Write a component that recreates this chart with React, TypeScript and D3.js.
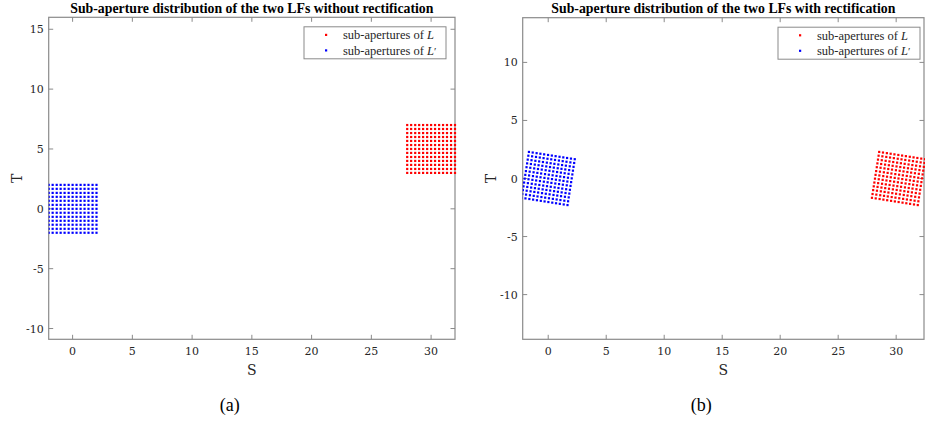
import React from 'react';
import * as d3 from 'd3';

// sub-aperture view offsets (13 x 13 grid), in S/T units
const viewOffsets = [-2, -1.67, -1.33, -1, -0.67, -0.33, 0, 0.33, 0.67, 1, 1.33, 1.67, 2];

// grid centres [s, t] for L (red) and L' (blue)
const centerL_raw = [30, 5];
const centerLp_raw = [0, 0];
const centerL_rect = [30.2, 0];
const centerLp_rect = [0, 0];
const rectAngleDeg = -9;

const xTicks = [0, 5, 10, 15, 20, 25, 30];
const yTicksA = [-10, -5, 0, 5, 10, 15];
const yTicksB = [-10, -5, 0, 5, 10];

const titles = [
  'Sub-aperture distribution of the two LFs without rectification',
  'Sub-aperture distribution of the two LFs with rectification',
];
const captions = ['(a)', '(b)'];

const RED = '#ff0000';
const BLUE = '#0000ff';
const AXIS = '#8a8a8a';
const TXT = '#262626';
const SERIF = '"Liberation Serif", "Times New Roman", serif';
const TICKFONT = '"DejaVu Serif", "Liberation Serif", serif';

function grid(center: number[], angleDeg: number) {
  const a = (angleDeg * Math.PI) / 180;
  const c = Math.cos(a), s = Math.sin(a);
  const pts: [number, number][] = [];
  viewOffsets.forEach((du) => {
    viewOffsets.forEach((dv) => {
      pts.push([center[0] + du * c - dv * s, center[1] + du * s + dv * c]);
    });
  });
  return pts;
}

type PanelProps = {
  id: string;
  left: number; right: number; top: number; bottom: number;
  xDomain: [number, number]; yDomain: [number, number];
  yTicks: number[];
  red: [number, number][]; blue: [number, number][];
  title: string; caption: string;
  legendX: number;
};

function Panel(p: PanelProps) {
  const x = d3.scaleLinear().domain(p.xDomain).range([p.left, p.right]);
  const y = d3.scaleLinear().domain(p.yDomain).range([p.bottom, p.top]);
  const cx = (p.left + p.right) / 2;
  const tl = 4.5;
  const lw = 142, lh = 32;
  const m = 2.2;
  return (
    <g>
      <defs>
        <clipPath id={p.id}>
          <rect x={p.left} y={p.top - 2} width={p.right - p.left + 2} height={p.bottom - p.top + 2} />
        </clipPath>
      </defs>
      <rect x={p.left} y={p.top} width={p.right - p.left} height={p.bottom - p.top} fill="#fff" stroke={AXIS} strokeWidth={1.2} />
      {xTicks.map((v) => (
        <g key={'x' + v}>
          <line x1={x(v)} x2={x(v)} y1={p.bottom} y2={p.bottom - tl} stroke={AXIS} />
          <line x1={x(v)} x2={x(v)} y1={p.top} y2={p.top + tl} stroke={AXIS} />
          <text x={x(v)} y={p.bottom + 16} textAnchor="middle" fontSize={11} fill={TXT} fontFamily={TICKFONT}>{v}</text>
        </g>
      ))}
      {p.yTicks.map((v) => (
        <g key={'y' + v}>
          <line x1={p.left} x2={p.left + tl} y1={y(v)} y2={y(v)} stroke={AXIS} />
          <line x1={p.right} x2={p.right - tl} y1={y(v)} y2={y(v)} stroke={AXIS} />
          <text x={p.left - 5} y={y(v) + 4} textAnchor="end" fontSize={11} fill={TXT} fontFamily={TICKFONT}>{v}</text>
        </g>
      ))}
      <g clipPath={`url(#${p.id})`}>
        {p.red.map((d, i) => <rect key={'r' + i} x={x(d[0]) - m / 2} y={y(d[1]) - m / 2} width={m} height={m} fill={RED} />)}
        {p.blue.map((d, i) => <rect key={'b' + i} x={x(d[0]) - m / 2} y={y(d[1]) - m / 2} width={m} height={m} fill={BLUE} />)}
      </g>
      <text x={cx} y={13} textAnchor="middle" fontSize={13.8} fontWeight="bold" fill="#000" fontFamily={SERIF}>{p.title}</text>
      <text x={cx} y={375} textAnchor="middle" fontSize={14} fill={TXT} fontFamily={TICKFONT}>S</text>
      <text transform={`translate(${p.left - 27},${(p.top + p.bottom) / 2}) rotate(-90)`} textAnchor="middle" fontSize={14} fill={TXT} fontFamily={TICKFONT}>T</text>
      <text x={cx - 22} y={411} textAnchor="middle" fontSize={18} fill="#000" fontFamily={SERIF}>{p.caption}</text>
      <g transform={`translate(${p.legendX},${p.top + 9.5})`}>
        <rect x={0} y={0} width={lw} height={lh} fill="#fff" stroke={AXIS} strokeWidth={1} />
        <rect x={21} y={7} width={m} height={m} fill={RED} />
        <rect x={21} y={22.5} width={m} height={m} fill={BLUE} />
        <text x={39} y={12.5} fontSize={12.5} fill={TXT} fontFamily={SERIF}>sub-apertures of <tspan fontStyle="italic">L</tspan></text>
        <text x={39} y={28} fontSize={12.5} fill={TXT} fontFamily={SERIF}>sub-apertures of <tspan fontStyle="italic">L</tspan><tspan fontSize={11}>′</tspan></text>
      </g>
    </g>
  );
}

export default function App() {
  return (
    <svg width={925} height={422} style={{ position: 'absolute', left: 0, top: 0, background: '#fff' }}>
      <Panel id="clipA" left={48.7} right={455} top={17.3} bottom={339.3}
        xDomain={[-2, 32]} yDomain={[-10.9, 16]} yTicks={yTicksA}
        red={grid(centerL_raw, 0)} blue={grid(centerLp_raw, 0)}
        title={titles[0]} caption={captions[0]} legendX={304} />
      <Panel id="clipB" left={522.7} right={924} top={17.7} bottom={339.3}
        xDomain={[-2.2, 32.4]} yDomain={[-13.85, 13.85]} yTicks={yTicksB}
        red={grid(centerL_rect, rectAngleDeg)} blue={grid(centerLp_rect, rectAngleDeg)}
        title={titles[1]} caption={captions[1]} legendX={778} />
    </svg>
  );
}
